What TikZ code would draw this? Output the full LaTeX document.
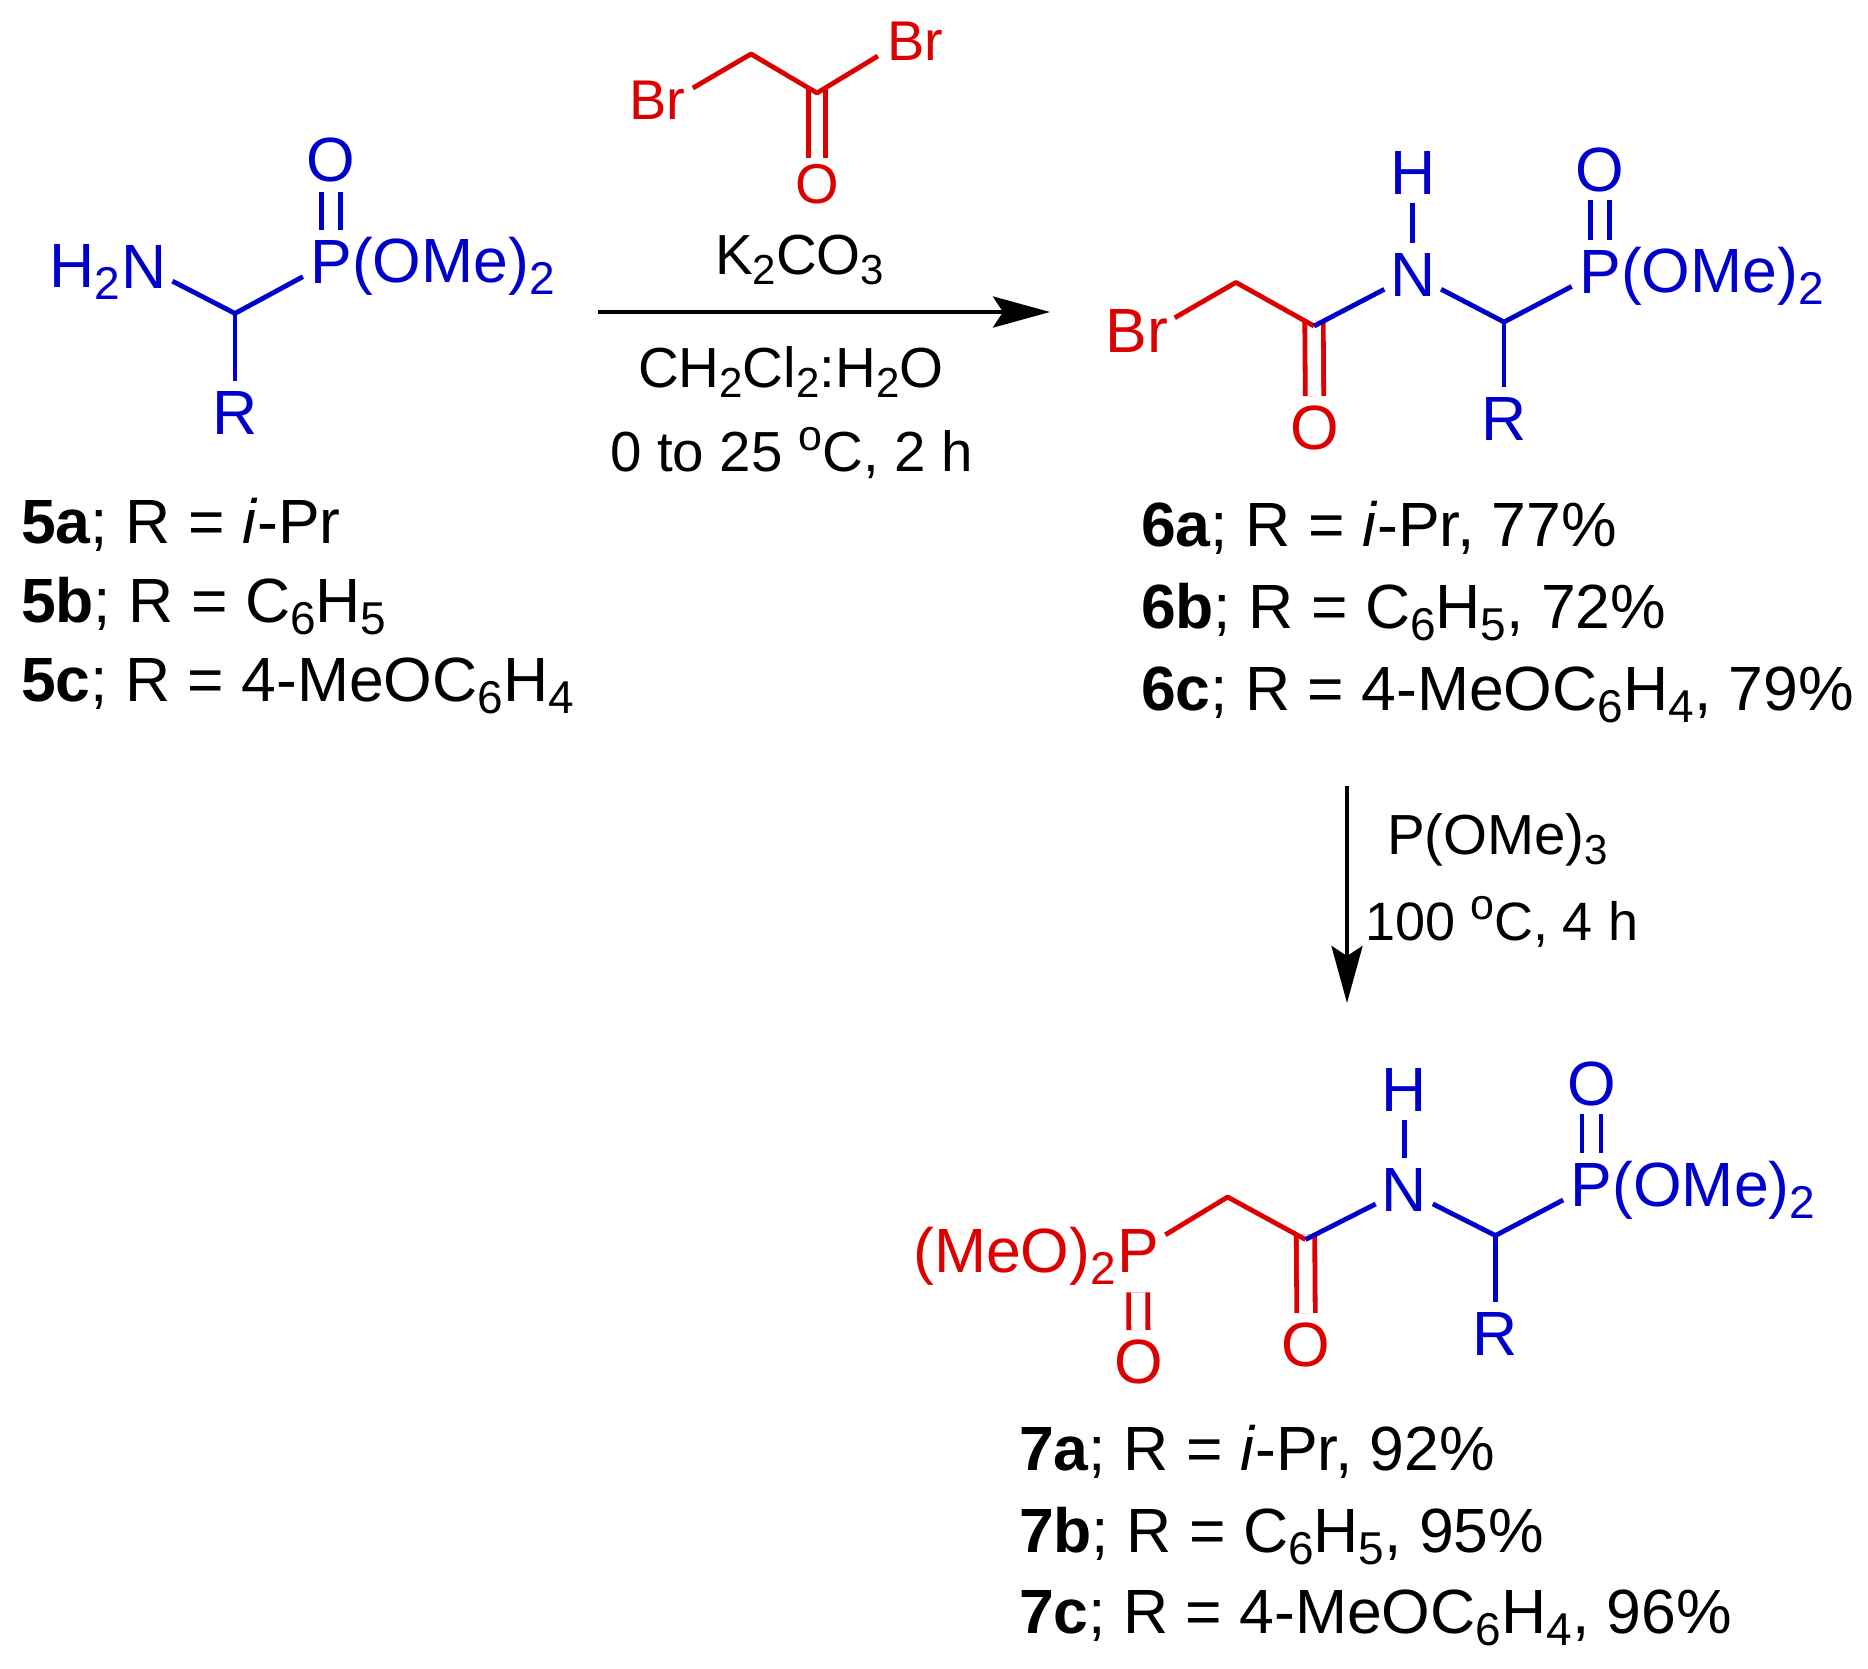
\documentclass[tikz,border=0pt]{standalone}
\usepackage{fontspec}
\setmainfont{Liberation Sans}
\usetikzlibrary{arrows.meta}
\definecolor{molblue}{HTML}{0000CC}
\definecolor{molred}{HTML}{DC0000}
\newcommand{\sbs}[1]{\raisebox{-12pt}{\fontsize{46}{46}\selectfont #1}}
\newcommand{\ssb}[1]{\raisebox{-10.5pt}{\fontsize{42}{42}\selectfont #1}}
\newcommand{\dego}{\raisebox{21pt}{\fontsize{43}{43}\selectfont o}}
\tikzset{
  x=1pt,y=-1pt,
  every node/.style={font=\fontsize{62.5}{62.5}\selectfont,inner sep=0pt,outer sep=0pt},
  atom/.style={circle,minimum size=#1pt,inner sep=-10pt},
  atom/.default=64,
  small/.style={font=\fontsize{56}{56}\selectfont},
  cond/.style={anchor=base west,text=black,font=\fontsize{56.5}{56.5}\selectfont},
  txt/.style={anchor=base west},
  lab/.style={anchor=base west,text=black},
  bond/.style={line width=4.8pt,line cap=butt,line join=round},
  dbl/.style={bond,double,double distance=#1pt},
  dbl/.default=13.6,
  rxn/.style={line width=4.4pt,-{Stealth[length=57pt,width=31pt,inset=10pt]}},
}
\begin{document}
\begin{tikzpicture}
\useasboundingbox (0,0) rectangle (1868,1668);
% ---- compound 5
\begin{scope}[molblue,text=molblue]
\node[atom] (N5) at (144,266.5) {N};
\node[txt,anchor=base east] (H5) at (120,287.5) {H\sbs{2}};
\node[atom] (P5) at (331,261.5) {P};
\node[txt] (OMe5) at (352,282.5) {(OMe)\sbs{2}};
\node[atom] (O5) at (331,160) {O};
\node[atom] (R5) at (235,412.5) {R};
\coordinate (C5) at (235,313.4);
\draw[dbl=14.2] (P5) -- (O5);
\draw[bond] (N5) -- (C5) -- (P5);
\draw[bond] (C5) -- (R5);
\end{scope}
\node[lab] (L5a) at (21,543) {\textbf{5a}; R = \textit{i}-Pr};
\node[lab] (L5b) at (21,622) {\textbf{5b}; R = C\sbs{6}H\sbs{5}};
\node[lab] (L5c) at (21,701) {\textbf{5c}; R = 4-MeOC\sbs{6}H\sbs{4}};
% ---- bromoacetyl bromide
\begin{scope}[molred,text=molred]
\node[atom=83,small] (BrA) at (657,109) {\raisebox{-10pt}[0pt][0pt]{Br}};
\node[atom=87,small] (BrB) at (915,33.5) {\raisebox{-26.5pt}[0pt][0pt]{Br}};
\node[atom=52,small] (OA) at (817,184) {O};
\coordinate (CH2A) at (751,54);
\coordinate (CA) at (817,93);
\coordinate (CAtop) at (817,88);
\draw[dbl=12.2] (CAtop) -- (OA);
\draw[bond] (BrA) -- (CH2A) -- (CA) -- (BrB);
\end{scope}
\node[cond] (K) at (715,274) {K\ssb{2}CO\ssb{3}};
\coordinate (A1s) at (598,312);
\coordinate (A1e) at (1050,312);
\draw[rxn] (A1s) -- (A1e);
\node[cond] (Solv) at (638,387) {CH\ssb{2}Cl\ssb{2}:H\ssb{2}O};
\node[cond] (Temp1) at (610,471) {0 to 25 \dego C, 2 h};
% ---- compound 6
\begin{scope}[molblue,text=molblue]
\node[atom] (N6) at (1412.7,274.5) {N};
\node[atom=60] (H6) at (1412.7,173) {H};
\node[atom] (P6) at (1600,271.6) {P};
\node[txt] (OMe6) at (1621,292.6) {(OMe)\sbs{2}};
\node[atom=60] (O6) at (1600,169.6) {O};
\node[atom] (R6) at (1504,419.4) {R};
\coordinate (C6b) at (1504,322);
\coordinate (C6) at (1314,326);
\draw[bond] (H6) -- (N6);
\draw[dbl=14.2] (P6) -- (O6);
\draw[bond] (N6) -- (C6b) -- (P6);
\draw[bond] (C6b) -- (R6);
\end{scope}
\begin{scope}[molred,text=molred]
\node[atom=87] (Br6) at (1137,339.5) {\raisebox{-13pt}[0pt][0pt]{Br}};
\node[atom] (O6r) at (1314.7,428) {O};
\coordinate (CH26) at (1236,282.4);
\coordinate (C6top) at (1314,321);
\draw[dbl] (C6top) -- (O6r);
\draw[bond] (Br6) -- (CH26) -- (C6);
\end{scope}
\draw[bond,molblue] (C6) -- (N6);
\node[lab] (L6a) at (1141,546.5) {\textbf{6a}; R = \textit{i}-Pr, 77\%};
\node[lab] (L6b) at (1141,628) {\textbf{6b}; R = C\sbs{6}H\sbs{5}, 72\%};
\node[lab] (L6c) at (1141,710) {\textbf{6c}; R = 4-MeOC\sbs{6}H\sbs{4}, 79\%};
% ---- step 2
\coordinate (A2s) at (1347,786);
\coordinate (A2e) at (1347,1003);
\draw[rxn] (A2s) -- (A2e);
\node[cond] (PO) at (1387,854) {P(OMe)\ssb{3}};
\node[cond,font=\fontsize{54}{54}\selectfont] (Temp2) at (1365,940) {100 \dego C, 4 h};
% ---- compound 7
\begin{scope}[molblue,text=molblue]
\node[atom] (N7) at (1404.2,1189.5) {N};
\node[atom=60] (H7) at (1404.2,1090.2) {H};
\node[atom] (P7) at (1591.5,1185.1) {P};
\node[txt] (OMe7) at (1612.5,1206.1) {(OMe)\sbs{2}};
\node[atom=60] (O7) at (1591.5,1084.1) {O};
\node[atom] (R7) at (1495.5,1334) {R};
\coordinate (C7b) at (1495.5,1235.5);
\coordinate (C7) at (1305.5,1239.5);
\draw[bond] (H7) -- (N7);
\draw[dbl=14.2] (P7) -- (O7);
\draw[bond] (N7) -- (C7b) -- (P7);
\draw[bond] (C7b) -- (R7);
\end{scope}
\begin{scope}[molred,text=molred]
\node[atom] (P7r) at (1138,1251.4) {P};
\node[txt,anchor=base east] (MeO7) at (1116,1272.4) {(MeO)\sbs{2}};
\node[atom=64] (O7r) at (1138.5,1362) {O};
\node[atom] (O7c) at (1306.2,1345) {O};
\coordinate (CH27) at (1227.6,1197);
\coordinate (C7top) at (1305.5,1234.5);
\draw[dbl] (C7top) -- (O7c);
\draw[dbl=14.2,shorten <=9pt] (P7r) -- (O7r);
\draw[bond] (P7r) -- (CH27) -- (C7);
\end{scope}
\draw[bond,molblue] (C7) -- (N7);
\node[lab] (L7a) at (1019,1470) {\textbf{7a}; R = \textit{i}-Pr, 92\%};
\node[lab] (L7b) at (1019,1552) {\textbf{7b}; R = C\sbs{6}H\sbs{5}, 95\%};
\node[lab] (L7c) at (1019,1633) {\textbf{7c}; R = 4-MeOC\sbs{6}H\sbs{4}, 96\%};
\end{tikzpicture}
\end{document}
